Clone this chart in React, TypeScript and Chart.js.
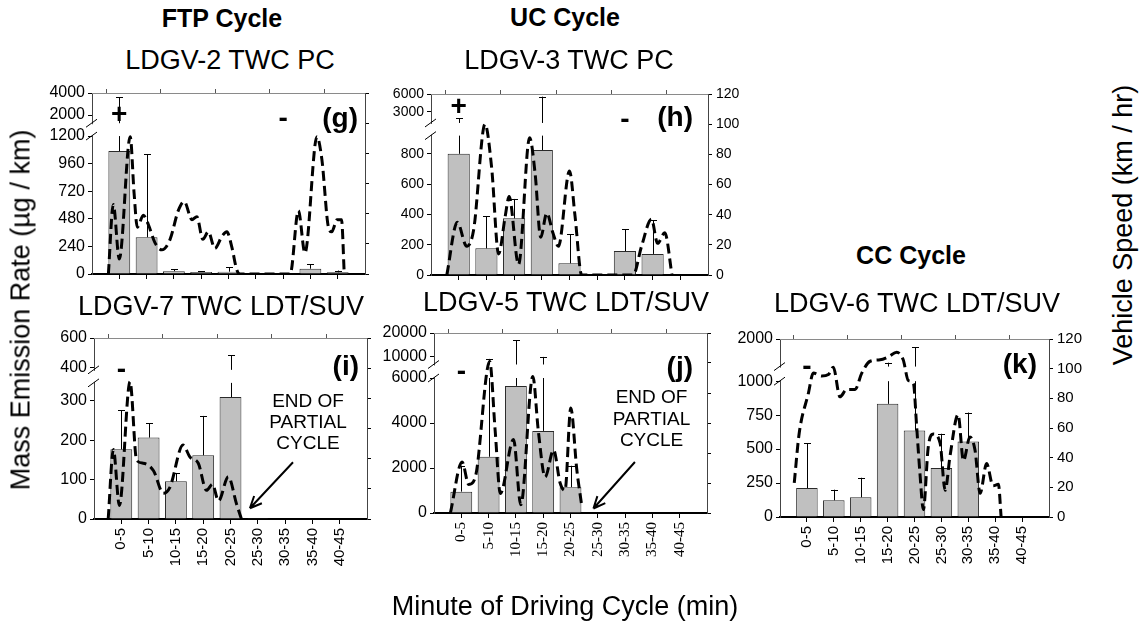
import React, { useEffect, useRef } from "react";
import { Chart, registerables } from "chart.js";

Chart.register(...registerables);

// ---------------- data ----------------
const categories = ["0-5", "5-10", "10-15", "15-20", "20-25", "25-30", "30-35", "35-40", "40-45"];
const speedTicks = [0, 20, 40, 60, 80, 100, 120];
const topTimeTicks = [0, 10, 20, 30, 40];

// (g) FTP cycle, LDGV-2 TWC PC
const gTicks = [0, 240, 480, 720, 960, 1200, 2000, 4000];
const gMean = [1070, 320, 25, 18, 20, 5, 3, 46, 15];
const gSd = [2530, 720, 15, 7, 40, 0, 0, 41, 15];
const gTime = [0.5, 1.4, 2.5, 4.5, 5.2, 5.8, 6.9, 7.8, 9.0, 10.3, 11.8, 13.3, 14.4, 15.8, 16.7, 17.8, 18.8, 20.0, 21.3, 22.2, 23.1, 24.0, 24.6, 33.8, 35.3, 36.5, 38.7, 39.6, 40.8, 41.4, 42.4, 43.2, 43.7];
const gSpeed = [0, 46, 10, 91, 54, 31, 39, 33, 21, 16, 23, 42, 48, 36, 38, 23, 28, 17, 25, 28, 18, 3, 0, 0, 42, 14, 91, 76, 31, 28, 36, 36, 0];

// (h) UC cycle, LDGV-3 TWC PC
const hTicks = [0, 200, 400, 600, 800, 3000, 6000];
const hMean = [800, 176, 374, 825, 77, 2, 158, 139, 0];
const hSd = [1155, 213, 128, 4730, 192, 0, 144, 224, 0];
const hTime = [0.35, 2.25, 3.95, 5.2, 7.25, 8.45, 9.7, 10.9, 11.6, 13.3, 15.3, 16.3, 17.3, 18.4, 19.5, 20.5, 22.5, 23.5, 24.7, 34.0, 35.5, 37.3, 38.4, 39.7, 41.0];
const hSpeed = [0, 35, 19, 30, 100, 71, 14, 39, 52, 7, 91, 67, 25, 41, 28, 19, 69, 39, 0, 0, 19, 37, 21, 28, 0];

// (i) FTP cycle, LDGV-7 TWC LDT/SUV
const iTicks = [0, 100, 200, 300, 400, 600];
const iMean = [177, 207, 96, 162, 310, 2, 1, 0, 0];
const iSd = [100, 36, 21, 100, 174, 0, 0, 0, 0];
const iTime = [0.1, 1.05, 2.15, 4.1, 5.3, 6.5, 8.4, 10.2, 11.4, 13.8, 15.1, 16.6, 18.1, 19.2, 20.3, 22.1, 23.6, 24.5];
const iSpeed = [0, 46, 9, 91, 39, 37, 32, 17, 21, 49, 41, 37, 19, 23, 12, 28, 10, 0];

// (j) UC cycle, LDGV-5 TWC LDT/SUV
const jTicks = [0, 2000, 4000, 6000, 10000, 20000];
const jMean = [950, 2500, 5650, 3650, 1150, 0, 0, 0, 0];
const jSd = [1150, 6400, 11200, 6100, 950, 0, 0, 0, 0];
const jTime = [0.5, 2.65, 3.86, 5.07, 7.7, 8.7, 9.65, 12.06, 13.4, 15.6, 16.6, 17.85, 19.4, 20.6, 21.5, 22.55, 23.65, 24.55];
const jSpeed = [0, 34, 19, 24, 101, 55, 13, 49, 5.5, 91, 55, 24, 42, 20, 15, 70, 29, 5];

// (k) CC cycle, LDGV-6 TWC LDT/SUV
const kTicks = [0, 250, 500, 750, 1000, 2000];
const kMean = [213, 123, 145, 833, 637, 360, 556, 0, 0];
const kSd = [331, 78, 144, 480, 1120, 253, 213, 0, 0];
const kTime = [0.15, 1.05, 2.75, 3.7, 5.25, 6.5, 7.4, 8.65, 9.9, 11.45, 12.7, 14.25, 16.1, 17.65, 19.2, 20.4, 21.35, 22.3, 22.9, 23.5, 24.15, 25.05, 26.0, 27.25, 28.2, 29.1, 30.6, 31.6, 32.8, 33.75, 34.7, 35.9, 37.1, 38.1, 38.6];
const kSpeed = [23, 56, 83, 97, 95, 96, 101, 81, 86, 86, 97, 105, 106, 108, 111, 106, 92, 90, 61, 30, 5, 47, 56, 50, 18, 41, 69, 38, 54, 45, 16, 36, 21, 22, 0];

const noteLines = ["END OF", "PARTIAL", "CYCLE"];

// ---------------- layout / style ----------------
const SANS = '"Liberation Sans", Arial, Helvetica, sans-serif';
const SERIF = '"Liberation Serif", "Times New Roman", serif';
const PADL = 70, PADR = 50, PADT = 16, PADB = 72;

type Panel = {
  id: string;
  box: number[];
  ticks: number[];
  bp: number[][];
  mean: number[];
  sd: number[];
  time: number[];
  speed: number[];
  xLabels: boolean;
  xSerif: boolean;
  rightLabels: boolean;
  yFont: number;
  rFont: number;
  signs: { x: number; text: string; dy: number }[];
  letter: string;
  letterDx: number;
  letterDy: number;
  note?: { x: number; ys: number[]; arrow: number[] };
};

const panels: Panel[] = [
  {
    id: "g", box: [92, 93, 365, 274], ticks: gTicks,
    bp: [[0, 0], [1200, 76.2], [1260, 83.3], [4000, 100]],
    mean: gMean, sd: gSd, time: gTime, speed: gSpeed,
    xLabels: false, xSerif: false, rightLabels: false, yFont: 16, rFont: 14,
    signs: [{ x: 0, text: "+", dy: 22 }, { x: 6, text: "-", dy: 26 }],
    letter: "(g)", letterDx: 7, letterDy: 26,
  },
  {
    id: "h", box: [431, 94, 708, 275], ticks: hTicks,
    bp: [[0, 0], [920, 77], [1170, 84], [6000, 100]],
    mean: hMean, sd: hSd, time: hTime, speed: hSpeed,
    xLabels: false, xSerif: false, rightLabels: true, yFont: 14, rFont: 14,
    signs: [{ x: 0, text: "+", dy: 13 }, { x: 6, text: "-", dy: 26 }],
    letter: "(h)", letterDx: 15, letterDy: 24,
  },
  {
    id: "i", box: [94, 338, 367, 519], ticks: iTicks,
    bp: [[0, 0], [346, 75.2], [383, 82.4], [600, 100]],
    mean: iMean, sd: iSd, time: iTime, speed: iSpeed,
    xLabels: true, xSerif: false, rightLabels: false, yFont: 16, rFont: 14,
    signs: [{ x: 0, text: "-", dy: 32 }],
    letter: "(i)", letterDx: 8, letterDy: 29,
    note: { x: 6.84, ys: [78, 64, 50], arrow: [6.29, 37.6, 4.71, 7.1] },
  },
  {
    id: "j", box: [434, 333, 707, 513], ticks: jTicks,
    bp: [[0, 0], [6000, 75], [6500, 82.5], [20000, 100]],
    mean: jMean, sd: jSd, time: jTime, speed: jSpeed,
    xLabels: true, xSerif: true, rightLabels: false, yFont: 16, rFont: 14,
    signs: [{ x: 0, text: "-", dy: 39 }],
    letter: "(j)", letterDx: 14, letterDy: 35,
    note: { x: 6.97, ys: [77, 62, 48], arrow: [6.36, 34, 4.84, 3] },
  },
  {
    id: "k", box: [780, 339, 1049, 517], ticks: kTicks,
    bp: [[0, 0], [1000, 76.3], [1200, 84.5], [2000, 100]],
    mean: kMean, sd: kSd, time: kTime, speed: kSpeed,
    xLabels: true, xSerif: false, rightLabels: true, yFont: 16, rFont: 15,
    signs: [{ x: 0, text: "-", dy: 28 }],
    letter: "(k)", letterDx: 12, letterDy: 26,
  },
];

function makeMap(bp: number[][]) {
  return (v: number) => {
    for (let i = 1; i < bp.length; i++) {
      if (v <= bp[i][0] || i === bp.length - 1) {
        const v0 = bp[i - 1][0], p0 = bp[i - 1][1], v1 = bp[i][0], p1 = bp[i][1];
        return p0 + ((v - v0) / (v1 - v0)) * (p1 - p0);
      }
    }
    return 0;
  };
}

function PanelChart({ p }: { p: Panel }) {
  const ref = useRef<HTMLCanvasElement | null>(null);
  const [l, t, r, b] = p.box;
  const W = r - l + PADL + PADR;
  const H = b - t + PADT + PADB;

  useEffect(() => {
    const f = makeMap(p.bp);
    const gapLo = p.bp[1][1];
    const gapHi = p.bp[2][1];

    const extras = {
      id: "extras_" + p.id,
      beforeDatasetsDraw(chart: any) {
        const { ctx, chartArea: ca, scales } = chart;
        ctx.save();
        ctx.strokeStyle = "#8a8a8a";
        ctx.lineWidth = 1;
        ctx.beginPath();
        ctx.moveTo(ca.left, ca.top + 0.5);
        ctx.lineTo(ca.right, ca.top + 0.5);
        ctx.stroke();
        ctx.strokeStyle = "#555";
        for (const tm of topTimeTicks) {
          const xp = Math.round(scales.x.getPixelForValue(tm / 5 - 0.5)) + 0.5;
          ctx.beginPath();
          ctx.moveTo(xp, ca.top);
          ctx.lineTo(xp, ca.top - 4);
          ctx.stroke();
        }
        ctx.restore();
      },
      afterDatasetsDraw(chart: any) {
        const { ctx } = chart;
        const ys = chart.scales.y;
        const yA = ys.getPixelForValue(gapLo);
        const yB = ys.getPixelForValue(gapHi);
        const meta = chart.getDatasetMeta(1);
        ctx.save();
        ctx.strokeStyle = "#000";
        ctx.lineWidth = 1;
        meta.data.forEach((bar: any, i: number) => {
          const sd = p.sd[i];
          if (!sd) return;
          const x = Math.round(bar.x) + 0.5;
          const y0 = bar.y;
          const y1 = ys.getPixelForValue(f(p.mean[i] + sd));
          ctx.beginPath();
          if (y1 < yB && y0 > yA) {
            ctx.moveTo(x, y0);
            ctx.lineTo(x, yA);
            ctx.moveTo(x, yB);
            ctx.lineTo(x, y1);
          } else {
            ctx.moveTo(x, y0);
            ctx.lineTo(x, y1);
          }
          ctx.moveTo(x - 3.5, Math.round(y1) + 0.5);
          ctx.lineTo(x + 3.5, Math.round(y1) + 0.5);
          ctx.stroke();
        });
        ctx.restore();
      },
      afterDraw(chart: any) {
        const { ctx, chartArea: ca, scales } = chart;
        const ys = scales.y;
        const xs = scales.x;
        const y2 = scales.y2;
        const yA = ys.getPixelForValue(gapLo);
        const yB = ys.getPixelForValue(gapHi);
        ctx.save();
        // axis break
        ctx.fillStyle = "#fff";
        ctx.fillRect(ca.left - 2, yB + 1, 4, yA - yB - 2);
        ctx.strokeStyle = "#000";
        ctx.lineWidth = 1;
        for (const yy of [yA, yB]) {
          ctx.beginPath();
          ctx.moveTo(ca.left - 6, yy + 4);
          ctx.lineTo(ca.left + 5, yy - 4);
          ctx.stroke();
        }
        // signs
        ctx.fillStyle = "#000";
        ctx.textBaseline = "middle";
        ctx.textAlign = "center";
        ctx.font = `bold 28px ${SANS}`;
        for (const s of p.signs) {
          ctx.fillText(s.text, xs.getPixelForValue(s.x), ca.top + s.dy);
        }
        ctx.textAlign = "right";
        ctx.fillText(p.letter, ca.right - p.letterDx, ca.top + p.letterDy);
        // note
        if (p.note) {
          const n = p.note;
          ctx.font = `19px ${SANS}`;
          ctx.textAlign = "center";
          noteLines.forEach((ln, k) => {
            ctx.fillText(ln, xs.getPixelForValue(n.x), y2.getPixelForValue(n.ys[k]));
          });
          const ax1 = xs.getPixelForValue(n.arrow[0]);
          const ay1 = y2.getPixelForValue(n.arrow[1]);
          const ax2 = xs.getPixelForValue(n.arrow[2]);
          const ay2 = y2.getPixelForValue(n.arrow[3]);
          ctx.lineWidth = 2;
          ctx.beginPath();
          ctx.moveTo(ax1, ay1);
          ctx.lineTo(ax2, ay2);
          const ang = Math.atan2(ay1 - ay2, ax1 - ax2);
          for (const d of [-0.42, 0.42]) {
            ctx.moveTo(ax2, ay2);
            ctx.lineTo(ax2 + 13 * Math.cos(ang + d), ay2 + 13 * Math.sin(ang + d));
          }
          ctx.stroke();
        }
        ctx.restore();
      },
    };

    const chart = new Chart(ref.current as HTMLCanvasElement, {
      type: "bar",
      data: {
        datasets: [
          {
            type: "line",
            data: p.time.map((tm, i) => ({ x: tm / 5 - 0.5, y: p.speed[i] })),
            xAxisID: "x",
            yAxisID: "y2",
            borderColor: "#000",
            borderWidth: 3,
            borderDash: [10, 5],
            pointRadius: 0,
            cubicInterpolationMode: "monotone",
            fill: false,
            order: 0,
          } as any,
          {
            type: "bar",
            data: p.mean.map((v, i) => ({ x: i, y: f(v) })),
            xAxisID: "x",
            yAxisID: "y",
            backgroundColor: "#c0c0c0",
            borderColor: "#2a2a2a",
            borderWidth: 1,
            barPercentage: 0.8,
            categoryPercentage: 1,
            order: 1,
          } as any,
        ],
      },
      options: {
        animation: false,
        responsive: false,
        maintainAspectRatio: false,
        events: [],
        layout: { padding: { top: PADT, left: 0, right: 0, bottom: 0 } },
        plugins: { legend: { display: false }, tooltip: { enabled: false }, title: { display: false } },
        scales: {
          x: {
            type: "linear",
            position: "bottom",
            min: -1,
            max: 9,
            offset: false,
            afterBuildTicks: (s: any) => {
              s.ticks = categories.map((_, i) => ({ value: i }));
            },
            afterFit: (s: any) => {
              s.height = PADB;
            },
            ticks: {
              display: p.xLabels,
              autoSkip: false,
              minRotation: 90,
              maxRotation: 90,
              padding: 4,
              color: "#000",
              font: { family: p.xSerif ? SERIF : SANS, size: 15 },
              callback: (_v: any, i: number) => categories[i],
            },
            grid: { display: true, drawOnChartArea: false, drawTicks: true, tickLength: 5, color: "#000", offset: false },
            border: { display: true, color: "#000", width: 2 },
          },
          y: {
            type: "linear",
            position: "left",
            min: 0,
            max: 100,
            afterBuildTicks: (s: any) => {
              s.ticks = p.ticks.map((v) => ({ value: f(v) }));
            },
            afterFit: (s: any) => {
              s.width = PADL;
            },
            ticks: {
              autoSkip: false,
              padding: 3,
              color: "#000",
              font: { family: SANS, size: p.yFont },
              callback: (_v: any, i: number) => String(p.ticks[i]),
            },
            grid: { display: true, drawOnChartArea: false, drawTicks: true, tickLength: 4, color: "#000" },
            border: { display: true, color: "#444", width: 1 },
          },
          y2: {
            type: "linear",
            position: "right",
            min: 0,
            max: 120,
            afterBuildTicks: (s: any) => {
              s.ticks = speedTicks.map((v) => ({ value: v }));
            },
            afterFit: (s: any) => {
              s.width = PADR;
            },
            ticks: {
              display: p.rightLabels,
              autoSkip: false,
              padding: 4,
              color: "#000",
              font: { family: SANS, size: p.rFont },
              callback: (_v: any, i: number) => String(speedTicks[i]),
            },
            grid: { display: true, drawOnChartArea: false, drawTicks: true, tickLength: 4, color: "#000" },
            border: { display: true, color: "#444", width: 1 },
          },
        },
      } as any,
      plugins: [extras as any],
    });
    return () => chart.destroy();
  }, [p]);

  return (
    <canvas
      ref={ref}
      width={W}
      height={H}
      style={{ position: "absolute", left: l - PADL, top: t - PADT, width: W, height: H }}
    />
  );
}

function Label(props: { x: number; y: number; size: number; bold?: boolean; rotate?: boolean; text: string }) {
  const { x, y, size, bold, rotate, text } = props;
  return (
    <div
      style={{
        position: "absolute",
        left: x,
        top: y,
        transform: `translate(-50%, -50%)${rotate ? " rotate(-90deg)" : ""}`,
        fontFamily: SANS,
        fontSize: size,
        fontWeight: bold ? 700 : 400,
        whiteSpace: "nowrap",
        lineHeight: 1,
        color: "#000",
      }}
    >
      {text}
    </div>
  );
}

export default function App() {
  return (
    <div style={{ position: "relative", width: 1140, height: 626, background: "#fff", overflow: "hidden" }}>
      <style>{"body{margin:0;background:#fff;}"}</style>
      {panels.map((p) => (
        <PanelChart key={p.id} p={p} />
      ))}
      <Label x={222} y={18} size={25} bold text="FTP Cycle" />
      <Label x={565} y={17} size={25} bold text="UC Cycle" />
      <Label x={911} y={255} size={25} bold text="CC Cycle" />
      <Label x={230} y={60} size={27} text="LDGV-2 TWC PC" />
      <Label x={569} y={60} size={27} text="LDGV-3 TWC PC" />
      <Label x={221} y={306} size={27} text="LDGV-7 TWC LDT/SUV" />
      <Label x={566} y={302} size={27} text="LDGV-5 TWC LDT/SUV" />
      <Label x={917} y={303} size={27} text="LDGV-6 TWC LDT/SUV" />
      <Label x={21} y={310} size={27} rotate text="Mass Emission Rate (µg / km)" />
      <Label x={1123} y={225} size={27} rotate text="Vehicle Speed (km / hr)" />
      <Label x={565} y={606} size={27} text="Minute of Driving Cycle (min)" />
    </div>
  );
}
